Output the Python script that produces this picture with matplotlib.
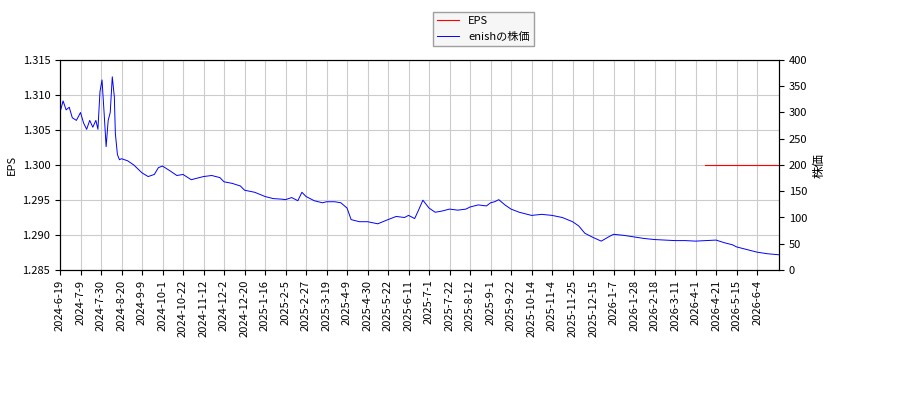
import matplotlib
matplotlib.use("Agg")
import matplotlib.pyplot as plt

plt.rcParams['font.family'] = ['Noto Sans CJK JP', 'DejaVu Sans']

tick_labels = ["2024-6-19","2024-7-9","2024-7-30","2024-8-20","2024-9-9","2024-10-1","2024-10-22",
"2024-11-12","2024-12-2","2024-12-20","2025-1-16","2025-2-5","2025-2-27","2025-3-19","2025-4-9",
"2025-4-30","2025-5-22","2025-6-11","2025-7-1","2025-7-22","2025-8-12","2025-9-1","2025-9-22",
"2025-10-14","2025-11-4","2025-11-25","2025-12-15","2026-1-7","2026-1-28","2026-2-18","2026-3-11",
"2026-4-1","2026-4-21","2026-5-15","2026-6-4"]

# price positions in tick units (14 trading days each) and values
price_pos = [0.0,0.15,0.3,0.45,0.6,0.8,1.0,1.15,1.3,1.45,1.6,1.75,1.85,1.95,2.05,2.15,2.25,2.35,2.45,
2.55,2.65,2.7,2.8,2.9,3.0,3.3,3.6,4.0,4.3,4.6,4.8,5.0,5.4,5.7,6.0,6.4,7.0,7.4,7.8,8.0,8.4,8.8,9.0,
9.5,10.0,10.4,10.8,11.0,11.3,11.6,11.8,12.0,12.4,12.8,13.0,13.4,13.7,14.0,14.2,14.6,15.0,15.5,16.0,
16.4,16.8,17.0,17.3,17.5,17.7,18.0,18.3,18.6,19.0,19.4,19.8,20.0,20.4,20.8,21.0,21.2,21.4,21.7,22.0,
22.4,22.8,23.0,23.5,24.0,24.5,25.0,25.3,25.6,26.0,26.4,26.8,27.0,27.5,28.0,28.5,29.0,29.5,30.0,30.5,
31.0,31.5,32.0,32.4,32.8,33.0,33.4,33.8,34.0,34.5,35.07]
price_val = [300,322,305,310,290,285,300,280,268,285,272,285,268,340,362,300,235,285,300,368,330,260,
220,210,212,208,200,185,178,182,195,198,188,180,182,172,178,180,176,168,165,160,152,148,140,136,135,
134,138,132,148,140,132,128,130,130,128,118,96,92,92,88,96,102,100,104,98,115,133,118,110,112,116,
114,116,120,124,122,128,130,134,124,116,110,106,104,106,104,100,92,84,70,62,55,64,68,66,63,60,
58,57,56,56,55,56,57,52,48,44,40,36,34,31,29]

eps_pos = [31.46, 35.07]
eps_val = [1.300, 1.300]

fig = plt.figure(figsize=(9, 4), dpi=100)
ax = fig.add_axes([60/900, 1-270/400, 719/900, 210/400])
ax2 = ax.twinx()

l1, = ax.plot(eps_pos, eps_val, color='red', lw=0.8, label='EPS')
l2, = ax2.plot(price_pos, price_val, color='blue', lw=0.7, label='enishの株価')

ax.set_xlim(0, 35.07)
ax.set_ylim(1.285, 1.315)
ax.set_yticks([1.285,1.29,1.295,1.3,1.305,1.31,1.315])
ax.set_yticklabels(["1.285","1.290","1.295","1.300","1.305","1.310","1.315"])
ax2.set_ylim(0, 400)
ax2.set_yticks(range(0, 401, 50))
ax.set_xticks(range(len(tick_labels)))
ax.set_xticklabels(tick_labels, rotation=90)
ax.grid(True, color='#cccccc', lw=0.8)
ax.set_axisbelow(True)
for a in (ax, ax2):
    a.tick_params(labelsize=8)
ax.set_ylabel('EPS', fontsize=8)
ax2.set_ylabel('株価', fontsize=9)

fig.legend([l1, l2], ['EPS', 'enishの株価'], loc='upper center', bbox_to_anchor=(0.537, 0.985),
           fontsize=8, fancybox=False, edgecolor='#888888', facecolor='#f4f4f4')
fig.savefig('out.png', dpi=100)
